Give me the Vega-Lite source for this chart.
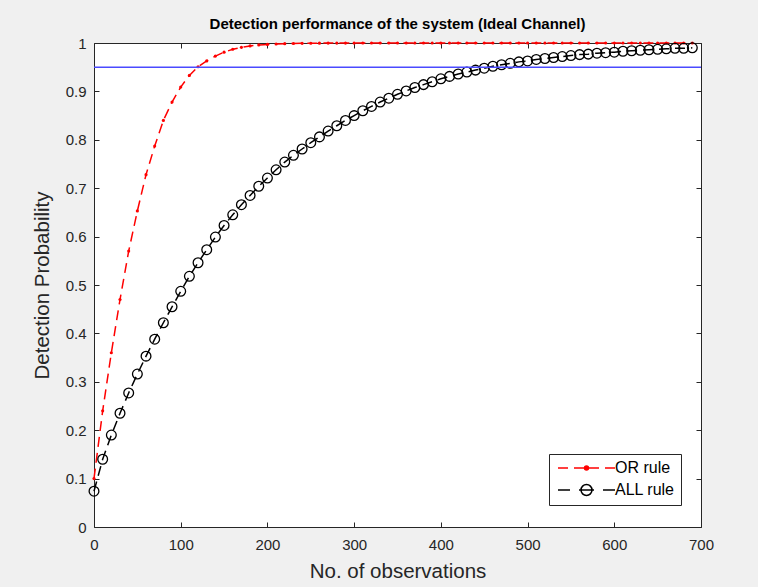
{
  "$schema": "https://vega.github.io/schema/vega-lite/v6.json",
  "width": 607,
  "height": 484,
  "autosize": "none",
  "padding": {"left": 94, "top": 43, "right": 57, "bottom": 60},
  "background": "#f0f0f0",
  "config": {
    "view": {"fill": "white", "stroke": null},
    "font": "Liberation Sans",
    "axis": {
      "domainColor": "#262626",
      "tickColor": "#262626",
      "tickSize": -5,
      "grid": false,
      "labelFlush": false,
      "labelColor": "#262626",
      "labelFont": "Liberation Sans",
      "labelFontSize": 15,
      "titleFont": "Liberation Sans",
      "titleFontSize": 20.5,
      "titleFontWeight": "normal",
      "titleColor": "#262626"
    }
  },
  "title": {
    "text": "Detection performance of the system (Ideal Channel)",
    "font": "Liberation Sans",
    "fontSize": 15,
    "fontWeight": "bold",
    "color": "black",
    "anchor": "middle",
    "frame": "group",
    "baseline": "bottom",
    "offset": -11
  },
  "datasets": {
    "curves": [
      {"n": 0, "p": 0.1, "series": "OR rule"},
      {"n": 10, "p": 0.24, "series": "OR rule"},
      {"n": 20, "p": 0.36, "series": "OR rule"},
      {"n": 30, "p": 0.47, "series": "OR rule"},
      {"n": 40, "p": 0.57, "series": "OR rule"},
      {"n": 50, "p": 0.653, "series": "OR rule"},
      {"n": 60, "p": 0.728, "series": "OR rule"},
      {"n": 70, "p": 0.787, "series": "OR rule"},
      {"n": 80, "p": 0.84, "series": "OR rule"},
      {"n": 90, "p": 0.878, "series": "OR rule"},
      {"n": 100, "p": 0.909, "series": "OR rule"},
      {"n": 110, "p": 0.933, "series": "OR rule"},
      {"n": 120, "p": 0.951, "series": "OR rule"},
      {"n": 130, "p": 0.963, "series": "OR rule"},
      {"n": 140, "p": 0.973, "series": "OR rule"},
      {"n": 150, "p": 0.981, "series": "OR rule"},
      {"n": 160, "p": 0.987, "series": "OR rule"},
      {"n": 170, "p": 0.991, "series": "OR rule"},
      {"n": 180, "p": 0.994, "series": "OR rule"},
      {"n": 190, "p": 0.996, "series": "OR rule"},
      {"n": 200, "p": 0.997, "series": "OR rule"},
      {"n": 210, "p": 0.998, "series": "OR rule"},
      {"n": 220, "p": 0.9986, "series": "OR rule"},
      {"n": 230, "p": 0.999, "series": "OR rule"},
      {"n": 240, "p": 0.9993, "series": "OR rule"},
      {"n": 250, "p": 0.9995, "series": "OR rule"},
      {"n": 260, "p": 0.9997, "series": "OR rule"},
      {"n": 270, "p": 0.9998, "series": "OR rule"},
      {"n": 280, "p": 0.9999, "series": "OR rule"},
      {"n": 290, "p": 0.9999, "series": "OR rule"},
      {"n": 300, "p": 0.9999, "series": "OR rule"},
      {"n": 310, "p": 1, "series": "OR rule"},
      {"n": 320, "p": 1, "series": "OR rule"},
      {"n": 330, "p": 1, "series": "OR rule"},
      {"n": 340, "p": 1, "series": "OR rule"},
      {"n": 350, "p": 1, "series": "OR rule"},
      {"n": 360, "p": 1, "series": "OR rule"},
      {"n": 370, "p": 1, "series": "OR rule"},
      {"n": 380, "p": 1, "series": "OR rule"},
      {"n": 390, "p": 1, "series": "OR rule"},
      {"n": 400, "p": 1, "series": "OR rule"},
      {"n": 410, "p": 1, "series": "OR rule"},
      {"n": 420, "p": 1, "series": "OR rule"},
      {"n": 430, "p": 1, "series": "OR rule"},
      {"n": 440, "p": 1, "series": "OR rule"},
      {"n": 450, "p": 1, "series": "OR rule"},
      {"n": 460, "p": 1, "series": "OR rule"},
      {"n": 470, "p": 1, "series": "OR rule"},
      {"n": 480, "p": 1, "series": "OR rule"},
      {"n": 490, "p": 1, "series": "OR rule"},
      {"n": 500, "p": 1, "series": "OR rule"},
      {"n": 510, "p": 1, "series": "OR rule"},
      {"n": 520, "p": 1, "series": "OR rule"},
      {"n": 530, "p": 1, "series": "OR rule"},
      {"n": 540, "p": 1, "series": "OR rule"},
      {"n": 550, "p": 1, "series": "OR rule"},
      {"n": 560, "p": 1, "series": "OR rule"},
      {"n": 570, "p": 1, "series": "OR rule"},
      {"n": 580, "p": 1, "series": "OR rule"},
      {"n": 590, "p": 1, "series": "OR rule"},
      {"n": 600, "p": 1, "series": "OR rule"},
      {"n": 610, "p": 1, "series": "OR rule"},
      {"n": 620, "p": 1, "series": "OR rule"},
      {"n": 630, "p": 1, "series": "OR rule"},
      {"n": 640, "p": 1, "series": "OR rule"},
      {"n": 650, "p": 1, "series": "OR rule"},
      {"n": 660, "p": 1, "series": "OR rule"},
      {"n": 670, "p": 1, "series": "OR rule"},
      {"n": 680, "p": 1, "series": "OR rule"},
      {"n": 690, "p": 1, "series": "OR rule"},
      {"n": 0, "p": 0.074, "series": "ALL rule"},
      {"n": 10, "p": 0.14, "series": "ALL rule"},
      {"n": 20, "p": 0.19, "series": "ALL rule"},
      {"n": 30, "p": 0.235, "series": "ALL rule"},
      {"n": 40, "p": 0.277, "series": "ALL rule"},
      {"n": 50, "p": 0.316, "series": "ALL rule"},
      {"n": 60, "p": 0.353, "series": "ALL rule"},
      {"n": 70, "p": 0.388, "series": "ALL rule"},
      {"n": 80, "p": 0.422, "series": "ALL rule"},
      {"n": 90, "p": 0.455, "series": "ALL rule"},
      {"n": 100, "p": 0.487, "series": "ALL rule"},
      {"n": 110, "p": 0.518, "series": "ALL rule"},
      {"n": 120, "p": 0.546, "series": "ALL rule"},
      {"n": 130, "p": 0.573, "series": "ALL rule"},
      {"n": 140, "p": 0.599, "series": "ALL rule"},
      {"n": 150, "p": 0.623, "series": "ALL rule"},
      {"n": 160, "p": 0.645, "series": "ALL rule"},
      {"n": 170, "p": 0.666, "series": "ALL rule"},
      {"n": 180, "p": 0.685, "series": "ALL rule"},
      {"n": 190, "p": 0.704, "series": "ALL rule"},
      {"n": 200, "p": 0.721, "series": "ALL rule"},
      {"n": 210, "p": 0.738, "series": "ALL rule"},
      {"n": 220, "p": 0.754, "series": "ALL rule"},
      {"n": 230, "p": 0.768, "series": "ALL rule"},
      {"n": 240, "p": 0.781, "series": "ALL rule"},
      {"n": 250, "p": 0.794, "series": "ALL rule"},
      {"n": 260, "p": 0.806, "series": "ALL rule"},
      {"n": 270, "p": 0.818, "series": "ALL rule"},
      {"n": 280, "p": 0.829, "series": "ALL rule"},
      {"n": 290, "p": 0.84, "series": "ALL rule"},
      {"n": 300, "p": 0.85, "series": "ALL rule"},
      {"n": 310, "p": 0.86, "series": "ALL rule"},
      {"n": 320, "p": 0.869, "series": "ALL rule"},
      {"n": 330, "p": 0.878, "series": "ALL rule"},
      {"n": 340, "p": 0.886, "series": "ALL rule"},
      {"n": 350, "p": 0.894, "series": "ALL rule"},
      {"n": 360, "p": 0.901, "series": "ALL rule"},
      {"n": 370, "p": 0.908, "series": "ALL rule"},
      {"n": 380, "p": 0.914, "series": "ALL rule"},
      {"n": 390, "p": 0.92, "series": "ALL rule"},
      {"n": 400, "p": 0.926, "series": "ALL rule"},
      {"n": 410, "p": 0.931, "series": "ALL rule"},
      {"n": 420, "p": 0.936, "series": "ALL rule"},
      {"n": 430, "p": 0.94, "series": "ALL rule"},
      {"n": 440, "p": 0.944, "series": "ALL rule"},
      {"n": 450, "p": 0.948, "series": "ALL rule"},
      {"n": 460, "p": 0.952, "series": "ALL rule"},
      {"n": 470, "p": 0.955, "series": "ALL rule"},
      {"n": 480, "p": 0.958, "series": "ALL rule"},
      {"n": 490, "p": 0.961, "series": "ALL rule"},
      {"n": 500, "p": 0.963, "series": "ALL rule"},
      {"n": 510, "p": 0.966, "series": "ALL rule"},
      {"n": 520, "p": 0.968, "series": "ALL rule"},
      {"n": 530, "p": 0.97, "series": "ALL rule"},
      {"n": 540, "p": 0.972, "series": "ALL rule"},
      {"n": 550, "p": 0.974, "series": "ALL rule"},
      {"n": 560, "p": 0.976, "series": "ALL rule"},
      {"n": 570, "p": 0.977, "series": "ALL rule"},
      {"n": 580, "p": 0.979, "series": "ALL rule"},
      {"n": 590, "p": 0.98, "series": "ALL rule"},
      {"n": 600, "p": 0.981, "series": "ALL rule"},
      {"n": 610, "p": 0.983, "series": "ALL rule"},
      {"n": 620, "p": 0.984, "series": "ALL rule"},
      {"n": 630, "p": 0.985, "series": "ALL rule"},
      {"n": 640, "p": 0.986, "series": "ALL rule"},
      {"n": 650, "p": 0.987, "series": "ALL rule"},
      {"n": 660, "p": 0.988, "series": "ALL rule"},
      {"n": 670, "p": 0.989, "series": "ALL rule"},
      {"n": 680, "p": 0.989, "series": "ALL rule"},
      {"n": 690, "p": 0.99, "series": "ALL rule"}
    ],
    "threshold": [{"p": 0.95}]
  },
  "data": {"name": "curves"},
  "layer": [
    {
      "mark": {"type": "line", "strokeDash": [10, 6], "strokeWidth": 1.5},
      "encoding": {
        "x": {
          "field": "n", "type": "quantitative",
          "scale": {"domain": [0, 700], "nice": false},
          "axis": {"title": "No. of observations", "values": [0, 100, 200, 300, 400, 500, 600, 700], "format": "d", "labelPadding": 15, "titlePadding": 9}
        },
        "y": {
          "field": "p", "type": "quantitative",
          "scale": {"domain": [0, 1], "nice": false},
          "axis": {"title": "Detection Probability", "values": [0, 0.1, 0.2, 0.3, 0.4, 0.5, 0.6, 0.7, 0.8, 0.9, 1], "format": "~g", "labelPadding": 13, "titlePadding": 13}
        },
        "color": {
          "field": "series", "type": "nominal",
          "scale": {"domain": ["OR rule", "ALL rule"], "range": ["#ff0000", "#000000"]},
          "legend": {
            "title": null,
            "orient": "none",
            "legendX": 455,
            "legendY": 411,
            "fillColor": "white",
            "strokeColor": "#262626",
            "padding": 6,
            "labelFont": "Liberation Sans",
            "labelFontSize": 16,
            "labelColor": "black",
            "labelOffset": 44,
            "rowPadding": 5,
            "symbolSize": 100,
            "symbolStrokeWidth": 1.5,
            "encode": {
              "symbols": {
                "update": {
                  "shape": {"signal": "datum.value === 'OR rule' ? 'M-1,0L1,0M2.2,0L4.2,0M5.2,0L7.2,0M8.4,0L10.4,0M5.1,0A0.4,0.4 0 1,1 4.3,0A0.4,0.4 0 1,1 5.1,0Z' : 'M-1,0L1.4,0M3.2,0L6.2,0M5.8,0A1.1,1.1 0 1,1 3.6,0A1.1,1.1 0 1,1 5.8,0M8,0L10.4,0'"},
                  "fill": {"signal": "datum.value === 'OR rule' ? '#ff0000' : 'transparent'"},
                  "strokeDash": {"value": []},
                  "size": {"value": 100}
                }
              }
            }
          }
        }
      }
    },
    {
      "transform": [{"filter": "datum.series === 'OR rule'"}],
      "mark": {"type": "point", "shape": "circle", "filled": true, "color": "#ff0000", "size": 10, "opacity": 1},
      "encoding": {
        "x": {"field": "n", "type": "quantitative", "axis": null},
        "y": {"field": "p", "type": "quantitative", "axis": null}
      }
    },
    {
      "transform": [{"filter": "datum.series === 'ALL rule'"}],
      "mark": {"type": "point", "shape": "circle", "filled": false, "color": "#000000", "size": 95, "strokeWidth": 1.3, "opacity": 1},
      "encoding": {
        "x": {"field": "n", "type": "quantitative", "axis": {"orient": "top", "labels": false, "title": null, "minExtent": 0, "maxExtent": 0, "values": [0, 100, 200, 300, 400, 500, 600, 700]}},
        "y": {"field": "p", "type": "quantitative", "axis": null}
      }
    },
    {
      "data": {"name": "threshold"},
      "mark": {"type": "rule", "color": "#4a4aff", "strokeWidth": 1.5},
      "encoding": {
        "y": {"field": "p", "type": "quantitative", "axis": {"orient": "right", "labels": false, "title": null, "minExtent": 0, "maxExtent": 0, "values": [0, 0.1, 0.2, 0.3, 0.4, 0.5, 0.6, 0.7, 0.8, 0.9, 1]}}
      }
    }
  ],
  "resolve": {"axis": {"x": "independent", "y": "independent"}}
}
